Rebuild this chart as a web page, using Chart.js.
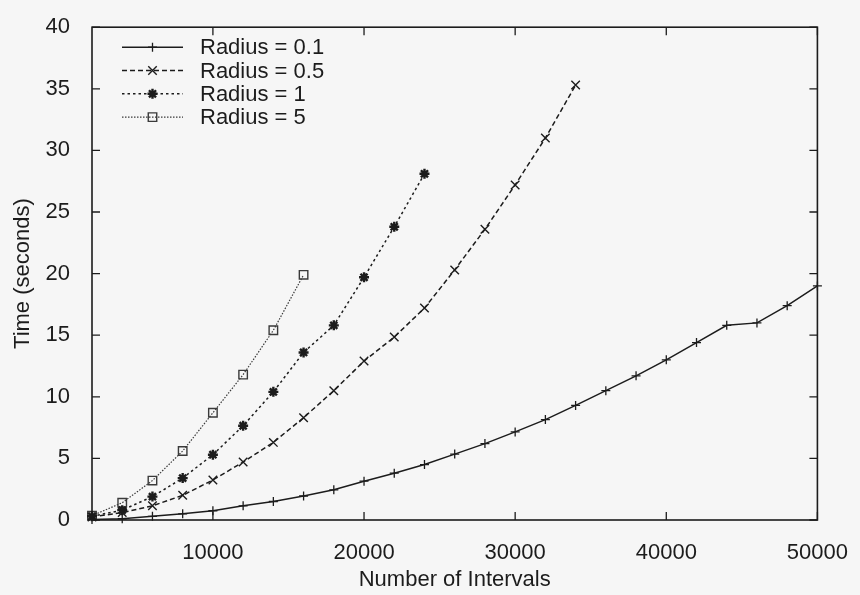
<!DOCTYPE html>
<html>
<head>
<meta charset="utf-8">
<title>Time vs Number of Intervals</title>
<script src="https://cdn.jsdelivr.net/npm/chart.js@4/dist/chart.umd.min.js"></script>
<style>
    html, body { margin: 0; padding: 0; background: #f6f6f6; }
    #wrap { width: 860px; height: 595px; }
</style>
</head>
<body>
<div id="wrap"><canvas id="timing" width="860" height="595"></canvas></div>
<script>
// number of intervals at which each run was timed
const intervals = [2000, 4000, 6000, 8000, 10000, 12000, 14000, 16000, 18000, 20000,
    22000, 24000, 26000, 28000, 30000, 32000, 34000, 36000, 38000, 40000,
    42000, 44000, 46000, 48000, 50000];

// run times in seconds, one list per radius
const timeR01 = [0.05, 0.1, 0.3, 0.5, 0.75, 1.15, 1.5, 1.95, 2.45, 3.15,
    3.8, 4.5, 5.35, 6.2, 7.15, 8.15, 9.3, 10.5, 11.7, 13.0,
    14.4, 15.8, 16.0, 17.4, 19.0];
const timeR05 = [0.25, 0.6, 1.15, 2.0, 3.25, 4.7, 6.3, 8.3, 10.5, 12.9,
    14.85, 17.2, 20.3, 23.6, 27.2, 31.0, 35.3];
const timeR1 = [0.3, 0.8, 1.9, 3.4, 5.3, 7.65, 10.4, 13.6, 15.8, 19.7, 23.8, 28.1];
const timeR5 = [0.35, 1.4, 3.2, 5.6, 8.7, 11.8, 15.4, 19.9];

const seriesLabels = ['Radius = 0.1', 'Radius = 0.5', 'Radius = 1', 'Radius = 5'];

const xTickValues = [10000, 20000, 30000, 40000, 50000];
const yTickValues = [0, 5, 10, 15, 20, 25, 30, 35, 40];

const INK = '#1c1c1c';
const FONT = "'Liberation Sans', Arial, Helvetica, sans-serif";

function toPoints(values) {
    return values.map((v, i) => ({ x: intervals[i], y: v }));
}

const datasets = [
    {
        label: seriesLabels[0],
        data: toPoints(timeR01),
        borderColor: INK,
        borderWidth: 1.5,
        pointStyle: 'cross',
        pointRadius: 4.5,
        pointBorderWidth: 1.3
    },
    {
        label: seriesLabels[1],
        data: toPoints(timeR05),
        borderColor: INK,
        borderWidth: 1.5,
        borderDash: [5, 3],
        pointStyle: 'crossRot',
        pointRadius: 6,
        pointBorderWidth: 1.4
    },
    {
        label: seriesLabels[2],
        data: toPoints(timeR1),
        borderColor: INK,
        borderWidth: 1.5,
        borderDash: [2.5, 3],
        pointStyle: 'star',
        pointRadius: 5,
        pointBorderWidth: 2.4
    },
    {
        label: seriesLabels[3],
        data: toPoints(timeR5),
        borderColor: '#3a3a3a',
        borderWidth: 1.2,
        borderDash: [1.5, 1.5],
        pointStyle: 'rect',
        pointRadius: 6,
        pointBorderWidth: 1.4
    }
].map(ds => Object.assign(ds, {
    pointBorderColor: ds.borderColor,
    pointBackgroundColor: 'rgba(0,0,0,0)',
    fill: false,
    tension: 0,
    clip: false
}));

// paper background
const backdrop = {
    id: 'backdrop',
    beforeDraw(chart) {
        const ctx = chart.ctx;
        ctx.save();
        ctx.fillStyle = '#f6f6f6';
        ctx.fillRect(0, 0, chart.width, chart.height);
        ctx.restore();
    }
};

// box around the plot with inward ticks on all four sides, plus the key
const frame = {
    id: 'frame',
    afterDraw(chart) {
        const ctx = chart.ctx;
        const a = chart.chartArea;
        const xs = chart.scales.x;
        const ys = chart.scales.y;
        const tick = 8;

        ctx.save();
        ctx.strokeStyle = INK;
        ctx.lineWidth = 1.6;
        ctx.setLineDash([]);
        ctx.strokeRect(a.left, a.top, a.right - a.left, a.bottom - a.top);

        ctx.lineWidth = 1.3;
        ctx.beginPath();
        yTickValues.forEach(v => {
            const y = ys.getPixelForValue(v);
            ctx.moveTo(a.left, y); ctx.lineTo(a.left + tick, y);
            ctx.moveTo(a.right, y); ctx.lineTo(a.right - tick, y);
        });
        xTickValues.forEach(v => {
            const x = xs.getPixelForValue(v);
            ctx.moveTo(x, a.bottom); ctx.lineTo(x, a.bottom - tick);
            ctx.moveTo(x, a.top); ctx.lineTo(x, a.top + tick);
        });
        ctx.stroke();

        // key, top left inside the frame
        const lx1 = a.left + 30, lx2 = a.left + 91, tx = a.left + 108;
        ctx.font = '22px ' + FONT;
        ctx.textBaseline = 'middle';
        ctx.textAlign = 'left';
        chart.data.datasets.forEach((ds, i) => {
            const y = a.top + 20 + i * 23.3;
            ctx.strokeStyle = ds.borderColor;
            ctx.lineWidth = ds.borderWidth;
            ctx.setLineDash(ds.borderDash || []);
            ctx.beginPath();
            ctx.moveTo(lx1, y);
            ctx.lineTo(lx2, y);
            ctx.stroke();
            ctx.setLineDash([]);
            if (Chart.helpers && Chart.helpers.drawPoint) {
                ctx.strokeStyle = ds.pointBorderColor;
                ctx.fillStyle = ds.pointBackgroundColor;
                ctx.lineWidth = ds.pointBorderWidth;
                Chart.helpers.drawPoint(ctx, {
                    pointStyle: ds.pointStyle,
                    radius: ds.pointRadius,
                    rotation: 0,
                    borderWidth: ds.pointBorderWidth
                }, (lx1 + lx2) / 2, y);
            }
            ctx.fillStyle = INK;
            ctx.fillText(ds.label, tx, y + 1);
        });
        ctx.restore();
    }
};

new Chart(document.getElementById('timing'), {
    type: 'line',
    data: { datasets },
    options: {
        responsive: false,
        animation: false,
        layout: {
            padding: { left: 0, top: 17, right: 40, bottom: 0 }
        },
        plugins: {
            legend: { display: false },
            tooltip: { enabled: false }
        },
        scales: {
            x: {
                type: 'linear',
                min: 2000,
                max: 50000,
                afterBuildTicks(scale) {
                    scale.ticks = xTickValues.map(v => ({ value: v }));
                },
                afterFit(scale) { scale.height = 75; },
                grid: { display: false },
                border: { display: false },
                ticks: {
                    color: INK,
                    padding: 12,
                    maxRotation: 0,
                    autoSkip: false,
                    font: { family: FONT, size: 22 },
                    callback: v => String(v)
                },
                title: {
                    display: true,
                    text: 'Number of Intervals',
                    color: INK,
                    padding: { top: 0, bottom: 2 },
                    font: { family: FONT, size: 22 }
                }
            },
            y: {
                type: 'linear',
                min: 0,
                max: 40,
                afterBuildTicks(scale) {
                    scale.ticks = yTickValues.map(v => ({ value: v }));
                },
                afterFit(scale) { scale.width = 92; },
                grid: { display: false },
                border: { display: false },
                ticks: {
                    color: INK,
                    padding: 14,
                    autoSkip: false,
                    font: { family: FONT, size: 22 }
                },
                title: {
                    display: true,
                    text: 'Time (seconds)',
                    color: INK,
                    padding: { top: 10, bottom: 0 },
                    font: { family: FONT, size: 22 }
                }
            }
        }
    },
    plugins: [backdrop, frame]
});
</script>
</body>
</html>
